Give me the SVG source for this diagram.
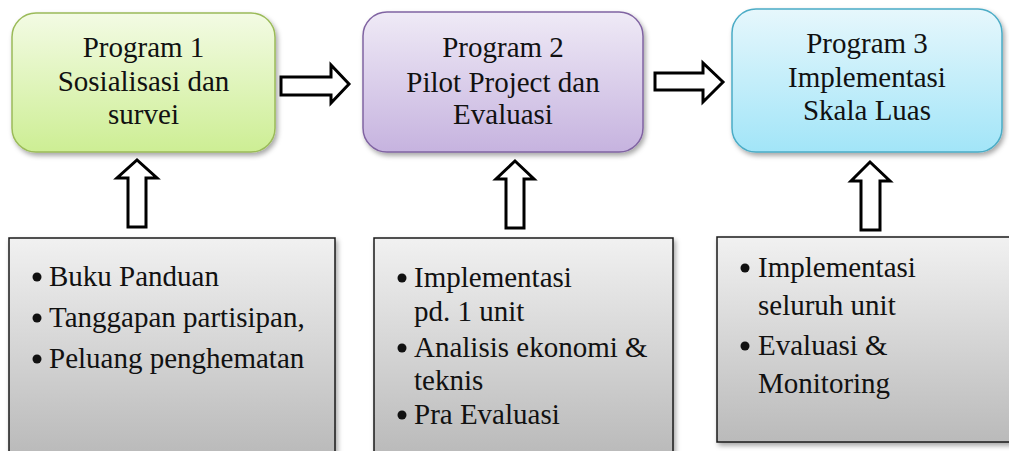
<svg xmlns="http://www.w3.org/2000/svg" width="1009" height="451" viewBox="0 0 1009 451">
<style>
text{font-family:"Liberation Serif","Times New Roman",serif;font-size:29px;fill:#111}
.c{text-anchor:middle}
.arr{fill:#fff;stroke:#000;stroke-width:3;stroke-linejoin:miter}
.bx{stroke:#1a1a1a;stroke-width:1.5}
</style>
<defs>
<linearGradient id="g1" x1="0" y1="0" x2="0" y2="1"><stop offset="0" stop-color="#f3fbe4"/><stop offset="1" stop-color="#cdee94"/></linearGradient>
<linearGradient id="g2" x1="0" y1="0" x2="0" y2="1"><stop offset="0" stop-color="#efeaf6"/><stop offset="1" stop-color="#c6b3df"/></linearGradient>
<linearGradient id="g3" x1="0" y1="0" x2="0" y2="1"><stop offset="0" stop-color="#e6f7fc"/><stop offset="1" stop-color="#a2e5f8"/></linearGradient>
<linearGradient id="gg" x1="0" y1="0" x2="0" y2="1"><stop offset="0" stop-color="#f1f1f1"/><stop offset="1" stop-color="#bababa"/></linearGradient>
<filter id="sh" x="-10%" y="-10%" width="125%" height="130%"><feDropShadow dx="2" dy="3" stdDeviation="2.5" flood-color="#000" flood-opacity="0.35"/></filter>
</defs>

<g id="program1">
<rect x="12" y="13" width="263" height="139" rx="24" fill="url(#g1)" stroke="#9bbb59" stroke-width="1.5" filter="url(#sh)"/>
<text class="c" x="143.5" y="57">Program 1</text>
<text class="c" x="143.5" y="91">Sosialisasi dan</text>
<text class="c" x="143.5" y="124">survei</text>
</g>

<g id="program2">
<rect x="363" y="12" width="280" height="140" rx="24" fill="url(#g2)" stroke="#8064a2" stroke-width="1.5" filter="url(#sh)"/>
<text class="c" x="503" y="57">Program 2</text>
<text class="c" x="503" y="92">Pilot Project dan</text>
<text class="c" x="503" y="124">Evaluasi</text>
</g>

<g id="program3">
<rect x="732" y="9" width="270" height="143" rx="24" fill="url(#g3)" stroke="#4bacc6" stroke-width="1.5" filter="url(#sh)"/>
<text class="c" x="867" y="53">Program 3</text>
<text class="c" x="867" y="87">Implementasi</text>
<text class="c" x="867" y="120">Skala Luas</text>
</g>

<g id="input1">
<rect class="bx" x="9" y="238" width="326" height="216" fill="url(#gg)" filter="url(#sh)"/>
<circle cx="37" cy="277" r="4.5" fill="#111"/>
<text x="49" y="286">Buku Panduan</text>
<circle cx="37" cy="318" r="4.5" fill="#111"/>
<text x="49" y="327">Tanggapan partisipan,</text>
<circle cx="37" cy="359" r="4.5" fill="#111"/>
<text x="49" y="368">Peluang penghematan</text>
</g>

<g id="input2">
<rect class="bx" x="374" y="238" width="299" height="216" fill="url(#gg)" filter="url(#sh)"/>
<circle cx="402" cy="278" r="4.5" fill="#111"/>
<text x="414" y="287">Implementasi</text>
<text x="414" y="321">pd. 1 unit</text>
<circle cx="402" cy="348" r="4.5" fill="#111"/>
<text x="414" y="357">Analisis ekonomi &amp;</text>
<text x="414" y="390">teknis</text>
<circle cx="402" cy="415" r="4.5" fill="#111"/>
<text x="414" y="424">Pra Evaluasi</text>
</g>

<g id="input3">
<rect class="bx" x="717" y="237" width="300" height="205" fill="url(#gg)" filter="url(#sh)"/>
<circle cx="745" cy="268" r="4.5" fill="#111"/>
<text x="758" y="277">Implementasi</text>
<text x="758" y="315">seluruh unit</text>
<circle cx="745" cy="346" r="4.5" fill="#111"/>
<text x="758" y="355">Evaluasi &amp;</text>
<text x="758" y="393">Monitoring</text>
</g>

<g id="connectors">
<path class="arr" d="M281,77 H331 V65 L349,84 L331,103 V95 H281 Z"/>
<path class="arr" d="M655,73 H703 V63 L723,82 L703,102 V90 H655 Z"/>
<path class="arr" d="M128,227 V178 H117 L137,160 L157,178 H146 V227 Z"/>
<path class="arr" d="M506,228 V179 H496 L515,161 L534,179 H524 V228 Z"/>
<path class="arr" d="M861,230 V181 H851 L870,162 L890,181 H880 V230 Z"/>
</g>
</svg>
